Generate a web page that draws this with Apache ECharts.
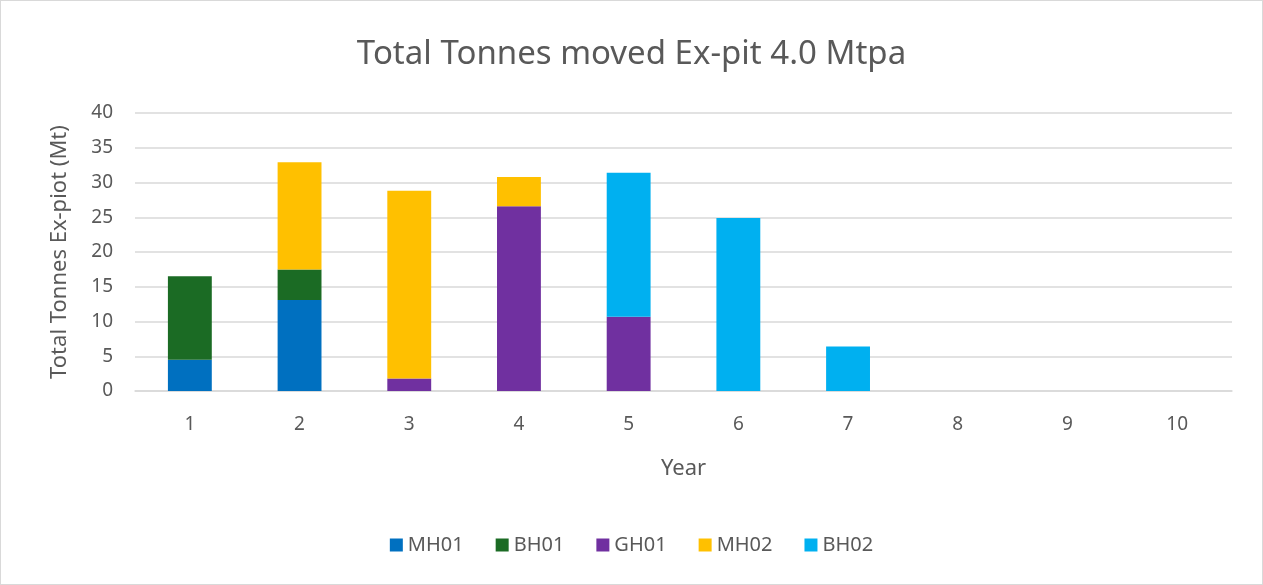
<!DOCTYPE html>
<html><head><meta charset="utf-8">
<script src="https://cdn.jsdelivr.net/npm/echarts@6/dist/echarts.min.js"></script>
<style>html,body{margin:0;padding:0;background:#fff}#c{width:1263px;height:585px;box-sizing:border-box;border:1px solid #d9d9d9}</style>
</head><body><div id="c"></div>
<script>
const categories = ['1','2','3','4','5','6','7','8','9','10'];
const MH01 = [4.5, 13.1, 0, 0, 0, 0, 0, 0, 0, 0];
const BH01 = [12.0, 4.4, 0, 0, 0, 0, 0, 0, 0, 0];
const GH01 = [0, 0, 1.8, 26.6, 10.7, 0, 0, 0, 0, 0];
const MH02 = [0, 15.4, 27.0, 4.2, 0, 0, 0, 0, 0, 0];
const BH02 = [0, 0, 0, 0, 20.7, 24.9, 6.4, 0, 0, 0];
const seriesNames = ['MH01','BH01','GH01','MH02','BH02'];
const seriesData = [MH01, BH01, GH01, MH02, BH02];
const colors = ['#0070C0','#1B6B24','#7030A0','#FFC000','#00B0F0'];
const font = 'Noto Sans';
const chart = echarts.init(document.getElementById('c'));
chart.setOption({
  animation:false,
  textStyle:{fontFamily:font},
  title:{text:'Total Tonnes moved Ex-pit 4.0 Mtpa',left:'center',top:32,
    textStyle:{fontFamily:font,fontSize:33,fontWeight:'normal',color:'#595959'}},
  legend:{bottom:24,left:'center',itemWidth:13,itemHeight:13,itemGap:32,icon:'rect',
    textStyle:{fontFamily:font,fontSize:20,color:'#595959'}},
  grid:{left:134,right:30,top:112,bottom:193,containLabel:false},
  xAxis:{type:'category',data:categories,name:'Year',nameLocation:'middle',nameGap:67,
    nameTextStyle:{fontSize:22,color:'#595959'},
    axisLine:{lineStyle:{color:'#d9d9d9',width:1.5}},axisTick:{show:false},
    axisLabel:{fontSize:19,color:'#595959',margin:24}},
  yAxis:{type:'value',min:0,max:40,interval:5,name:'Total Tonnes Ex-piot (Mt)',nameLocation:'middle',nameGap:64,
    nameTextStyle:{fontSize:22,color:'#595959'},
    axisLine:{show:false},axisTick:{show:false},
    axisLabel:{fontSize:19,color:'#595959',margin:22}},
  series: seriesNames.map((n,i)=>({name:n,type:'bar',stack:'t',data:seriesData[i],
    barWidth:'40%',itemStyle:{color:colors[i]}}))
});
chart.setOption({yAxis:{splitLine:{lineStyle:{color:'#d9d9d9',width:1.5}}}});
</script></body></html>
